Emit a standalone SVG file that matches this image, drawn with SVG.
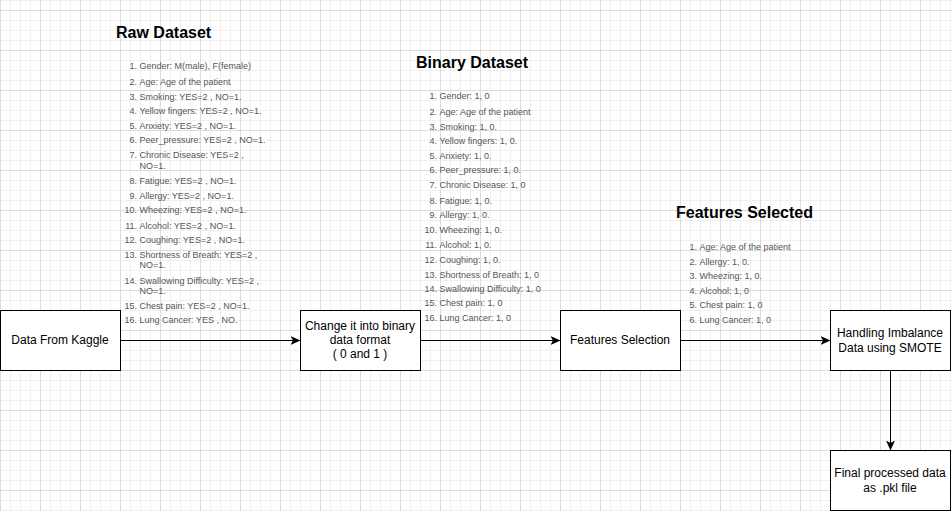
<svg xmlns="http://www.w3.org/2000/svg" width="952" height="511" viewBox="0 0 952 511">
<defs>
<pattern id="grid" x="0" y="10" width="40" height="40" patternUnits="userSpaceOnUse">
<path d="M10.5 0V40M20.5 0V40M30.5 0V40M0 10.5H40M0 20.5H40M0 30.5H40" stroke="#f0f0f0" stroke-width="1" fill="none"/>
<path d="M0.5 0V40M0 0.5H40" stroke="#dcdcdc" stroke-width="1" fill="none"/>
</pattern>
<marker id="arr" viewBox="0 0 10 10" refX="9.5" refY="5" markerWidth="10" markerHeight="10" markerUnits="userSpaceOnUse" orient="auto">
<path d="M0 0.5L10 5L0 9.5L2.5 5Z" fill="#000"/>
</marker>
<style>
.box{fill:#fff;stroke:#000;stroke-width:1}
.lbl{font-family:"Liberation Sans",Arial,sans-serif;font-size:12px;fill:#000;text-anchor:middle}
.hd{font-family:"Liberation Sans",Arial,sans-serif;font-size:16px;font-weight:bold;fill:#000}
.li{font-family:"Liberation Sans",Arial,sans-serif;font-size:9px;fill:#555}
.num{text-anchor:end}
.edge{fill:none;stroke:#000;stroke-width:1;marker-end:url(#arr)}
</style>
</defs>
<rect width="952" height="511" fill="#fff"/>
<rect width="952" height="511" fill="url(#grid)"/>

<g id="connectors">
<path class="edge" d="M120.5 340.5H300"/>
<path class="edge" d="M420.5 340.5H560"/>
<path class="edge" d="M680.5 340.5H830"/>
<path class="edge" d="M890.5 370.5V450"/>
</g>

<g id="kaggle">
<rect class="box" x="0.5" y="310.5" width="120" height="60"/>
<text class="lbl" x="60" y="344">Data From Kaggle</text>
</g>
<g id="binary">
<rect class="box" x="300.5" y="310.5" width="120" height="60"/>
<text class="lbl" x="360" y="330">Change it into binary</text>
<text class="lbl" x="360" y="344">data format</text>
<text class="lbl" x="360" y="358">( 0 and 1 )</text>
</g>
<g id="selection">
<rect class="box" x="560.5" y="310.5" width="120" height="60"/>
<text class="lbl" x="620" y="344">Features Selection</text>
</g>
<g id="smote">
<rect class="box" x="830.5" y="310.5" width="120" height="60"/>
<text class="lbl" x="890" y="337">Handling Imbalance</text>
<text class="lbl" x="890" y="352">Data using SMOTE</text>
</g>
<g id="final">
<rect class="box" x="830.5" y="450.5" width="120" height="60"/>
<text class="lbl" x="890" y="477">Final processed data</text>
<text class="lbl" x="890" y="492">as .pkl file</text>
</g>

<g id="raw-dataset">
<text class="hd" x="116" y="38">Raw Dataset</text>
<g class="li">
<text class="num" x="137" y="69">1.</text><text x="139.5" y="69">Gender: M(male), F(female)</text>
<text class="num" x="137" y="84.5">2.</text><text x="139.5" y="84.5">Age: Age of the patient</text>
<text class="num" x="137" y="99.5">3.</text><text x="139.5" y="99.5">Smoking: YES=2 , NO=1.</text>
<text class="num" x="137" y="113.5">4.</text><text x="139.5" y="113.5">Yellow fingers: YES=2 , NO=1.</text>
<text class="num" x="137" y="128.5">5.</text><text x="139.5" y="128.5">Anxiety: YES=2 , NO=1.</text>
<text class="num" x="137" y="143">6.</text><text x="139.5" y="143">Peer_pressure: YES=2 , NO=1.</text>
<text class="num" x="137" y="158">7.</text><text x="139.5" y="158">Chronic Disease: YES=2 ,</text>
<text x="139.5" y="169">NO=1.</text>
<text class="num" x="137" y="183.5">8.</text><text x="139.5" y="183.5">Fatigue: YES=2 , NO=1.</text>
<text class="num" x="137" y="198.5">9.</text><text x="139.5" y="198.5">Allergy: YES=2 , NO=1.</text>
<text class="num" x="137" y="213">10.</text><text x="139.5" y="213">Wheezing: YES=2 , NO=1.</text>
<text class="num" x="137" y="228.5">11.</text><text x="139.5" y="228.5">Alcohol: YES=2 , NO=1.</text>
<text class="num" x="137" y="242.5">12.</text><text x="139.5" y="242.5">Coughing: YES=2 , NO=1.</text>
<text class="num" x="137" y="257.5">13.</text><text x="139.5" y="257.5">Shortness of Breath: YES=2 ,</text>
<text x="139.5" y="268">NO=1.</text>
<text class="num" x="137" y="283.5">14.</text><text x="139.5" y="283.5">Swallowing Difficulty: YES=2 ,</text>
<text x="139.5" y="294">NO=1.</text>
<text class="num" x="137" y="309">15.</text><text x="139.5" y="309">Chest pain: YES=2 , NO=1.</text>
<text class="num" x="137" y="323">16.</text><text x="139.5" y="323">Lung Cancer: YES , NO.</text>
</g>
</g>

<g id="binary-dataset">
<text class="hd" x="416" y="68">Binary Dataset</text>
<g class="li">
<text class="num" x="437" y="99">1.</text><text x="439.5" y="99">Gender: 1, 0</text>
<text class="num" x="437" y="114.5">2.</text><text x="439.5" y="114.5">Age: Age of the patient</text>
<text class="num" x="437" y="129.5">3.</text><text x="439.5" y="129.5">Smoking: 1, 0.</text>
<text class="num" x="437" y="143.5">4.</text><text x="439.5" y="143.5">Yellow fingers: 1, 0.</text>
<text class="num" x="437" y="158.5">5.</text><text x="439.5" y="158.5">Anxiety: 1, 0.</text>
<text class="num" x="437" y="173">6.</text><text x="439.5" y="173">Peer_pressure: 1, 0.</text>
<text class="num" x="437" y="188">7.</text><text x="439.5" y="188">Chronic Disease: 1, 0</text>
<text class="num" x="437" y="203.5">8.</text><text x="439.5" y="203.5">Fatigue: 1, 0.</text>
<text class="num" x="437" y="218">9.</text><text x="439.5" y="218">Allergy: 1, 0.</text>
<text class="num" x="437" y="233">10.</text><text x="439.5" y="233">Wheezing: 1, 0.</text>
<text class="num" x="437" y="248">11.</text><text x="439.5" y="248">Alcohol: 1, 0.</text>
<text class="num" x="437" y="262.5">12.</text><text x="439.5" y="262.5">Coughing: 1, 0.</text>
<text class="num" x="437" y="277.5">13.</text><text x="439.5" y="277.5">Shortness of Breath: 1, 0</text>
<text class="num" x="437" y="291.5">14.</text><text x="439.5" y="291.5">Swallowing Difficulty: 1, 0</text>
<text class="num" x="437" y="306">15.</text><text x="439.5" y="306">Chest pain: 1, 0</text>
<text class="num" x="437" y="321">16.</text><text x="439.5" y="321">Lung Cancer: 1, 0</text>
</g>
</g>

<g id="features-selected">
<text class="hd" x="676" y="218">Features Selected</text>
<g class="li">
<text class="num" x="697" y="250">1.</text><text x="699.5" y="250">Age: Age of the patient</text>
<text class="num" x="697" y="264.5">2.</text><text x="699.5" y="264.5">Allergy: 1, 0.</text>
<text class="num" x="697" y="278.5">3.</text><text x="699.5" y="278.5">Wheezing: 1, 0.</text>
<text class="num" x="697" y="293.5">4.</text><text x="699.5" y="293.5">Alcohol: 1, 0</text>
<text class="num" x="697" y="308">5.</text><text x="699.5" y="308">Chest pain: 1, 0</text>
<text class="num" x="697" y="323">6.</text><text x="699.5" y="323">Lung Cancer: 1, 0</text>
</g>
</g>
</svg>
